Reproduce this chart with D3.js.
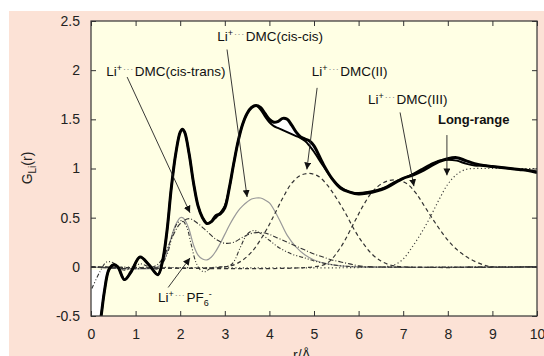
<!DOCTYPE html>
<html><head><meta charset="utf-8">
<script src="https://cdn.jsdelivr.net/npm/d3@7"></script>
<style>html,body{margin:0;padding:0;background:#fff;}svg{display:block;}</style>
</head><body>
<svg id="chart" width="544" height="356"></svg>
<script>
// ---- data ----
const xTicks = [0,1,2,3,4,5,6,7,8,9,10];
const yTicks = [-0.5,0,0.5,1,1.5,2,2.5];
const yTickLabels = ["-0.5","0","0.5","1","1.5","2","2.5"];

const totalR = [0.2,0.25,0.3,0.4,0.5,0.6,0.75,0.9,1.1,1.3,1.5,1.6,1.7,1.8,1.9,2.0,2.05,2.1,2.2,2.3,2.4,2.5,2.6,2.7,2.8,2.9,3.0,3.1,3.2,3.3,3.4,3.5,3.6,3.7,3.8,3.9,4.0,4.1,4.2,4.3,4.4,4.5,4.6,4.7,4.8,4.9,5.0,5.2,5.4,5.6,5.8,6.0,6.2,6.4,6.6,6.8,7.0,7.2,7.4,7.6,7.8,8.0,8.2,8.4,8.6,8.8,9.0,9.2,9.4,9.6,9.8,10.0];
const totalA = [-0.6,-0.42,-0.25,-0.03,0.02,0.0,-0.13,-0.05,0.1,0.02,-0.08,0.05,0.35,0.8,1.15,1.37,1.40,1.37,1.15,0.85,0.62,0.5,0.44,0.46,0.52,0.54,0.6,0.8,1.05,1.28,1.45,1.56,1.62,1.64,1.62,1.56,1.5,1.47,1.48,1.51,1.5,1.44,1.37,1.32,1.3,1.28,1.23,1.05,0.9,0.8,0.76,0.74,0.75,0.77,0.8,0.85,0.9,0.93,0.97,1.02,1.07,1.1,1.11,1.08,1.05,1.03,1.02,1.01,1.0,0.99,0.98,0.96];
const totalB = [-0.6,-0.42,-0.25,-0.03,0.02,0.0,-0.13,-0.05,0.1,0.02,-0.08,0.05,0.35,0.8,1.15,1.37,1.40,1.37,1.15,0.85,0.62,0.5,0.44,0.46,0.5,0.55,0.62,0.8,1.05,1.28,1.45,1.56,1.62,1.64,1.6,1.53,1.47,1.43,1.41,1.39,1.37,1.35,1.33,1.31,1.28,1.23,1.17,1.03,0.9,0.81,0.76,0.75,0.76,0.78,0.81,0.86,0.9,0.94,0.99,1.04,1.08,1.09,1.08,1.05,1.03,1.03,1.02,1.01,1.0,0.99,0.98,0.97];

const cisCisR = [0,1.5,1.65,1.8,1.9,2.0,2.05,2.1,2.2,2.3,2.4,2.5,2.6,2.7,2.8,2.9,3.0,3.1,3.2,3.3,3.4,3.5,3.6,3.7,3.8,3.9,4.0,4.2,4.4,4.6,4.8,5.0,5.3,5.6,6.0,10];
const cisCisG = [0,0,0.08,0.3,0.43,0.5,0.5,0.48,0.38,0.22,0.12,0.08,0.07,0.1,0.16,0.24,0.33,0.42,0.5,0.57,0.62,0.66,0.69,0.7,0.7,0.68,0.65,0.5,0.32,0.2,0.12,0.07,0.03,0.01,0,0];

const cisTransR = [0,1.4,1.6,1.8,2.0,2.2,2.4,2.6,2.8,3.0,3.2,3.4,3.6,3.8,4.0,4.2,4.4,4.6,4.8,5.0,5.2,5.4,5.6,5.8,6.0,6.3,10];
const cisTransG = [0,0,0.08,0.28,0.44,0.49,0.44,0.36,0.28,0.24,0.25,0.3,0.34,0.35,0.33,0.29,0.25,0.21,0.17,0.13,0.1,0.07,0.05,0.03,0.01,0,0];

const pf6R = [0.02,0.2,0.35,0.5,0.7,0.9,1.1,1.3,1.5,1.7,1.85,1.95,2.05,2.15,2.25,2.35,2.45,2.55,2.7,2.9,3.1,3.2,3.35,3.5,3.65,3.8,4.0,4.2,4.5,4.8,5.0,5.3,5.6,6.0,10];
const pf6G = [-0.22,-0.05,0.05,0.04,-0.03,-0.02,0.03,0.0,-0.02,0.12,0.36,0.45,0.47,0.4,0.22,0.05,-0.03,-0.05,-0.01,0,0.01,0.05,0.2,0.33,0.37,0.34,0.27,0.2,0.13,0.09,0.06,0.03,0.01,0,0];

const dmc2R = [0,3.0,3.3,3.6,3.9,4.1,4.3,4.5,4.7,4.9,5.1,5.3,5.5,5.7,5.9,6.1,6.3,6.5,6.7,7.0,10];
const dmc2G = [0,0,0.04,0.15,0.35,0.52,0.7,0.85,0.93,0.95,0.92,0.83,0.7,0.55,0.38,0.24,0.13,0.06,0.02,0,0];

const dmc3R = [0,5.0,5.3,5.6,5.9,6.1,6.3,6.5,6.7,6.9,7.1,7.3,7.5,7.7,7.9,8.1,8.3,8.5,8.8,9.0,10];
const dmc3G = [0,0,0.04,0.2,0.45,0.62,0.76,0.84,0.88,0.88,0.84,0.74,0.6,0.46,0.33,0.22,0.14,0.08,0.02,0,0];

const longR = [0,6.5,6.8,7.0,7.2,7.4,7.6,7.8,8.0,8.2,8.4,8.6,8.8,9.0,9.5,10];
const longG = [0,0,0.02,0.08,0.2,0.34,0.5,0.68,0.84,0.94,0.99,1.0,1.0,1.0,1.0,1.0];

// annotations: label anchor (r,G), arrow start (r,G), arrow tip (r,G)
const annNames = ["cis-trans","cis-cis","II","III","long","pf6"];
const annLabelR = [0.34,2.83,4.95,6.21,7.78,1.50];
const annLabelG = [1.94,2.30,1.94,1.66,1.45,-0.36];
const annFromR = [0.81,3.05,5.07,6.93,7.98,1.73];
const annFromG = [1.93,2.21,1.82,1.57,1.34,-0.21];
const annToR = [2.22,3.50,4.84,7.24,7.98,2.22];
const annToG = [0.55,0.71,0.99,0.82,0.93,0.09];

// ---- layout ----
const svg = d3.select("#chart");
const W = 544, H = 356;
const m = {left:91, right:537, top:21, bottom:316};
const x = d3.scaleLinear().domain([0,10]).range([m.left, m.right]);
const y = d3.scaleLinear().domain([-0.5,2.5]).range([m.bottom, m.top]);
const font = "'Liberation Sans', Arial, sans-serif";

svg.append("rect").attr("x",0).attr("y",0).attr("width",W).attr("height",H).attr("fill","#ffffff");
svg.append("rect").attr("x",9).attr("y",11).attr("width",W-9).attr("height",H-11).attr("fill","#fce2d6");
svg.append("rect").attr("x",m.left).attr("y",m.top).attr("width",m.right-m.left).attr("height",m.bottom-m.top).attr("fill","#ffffe4");

svg.append("defs").append("clipPath").attr("id","clip")
  .append("rect").attr("x",m.left).attr("y",m.top).attr("width",m.right-m.left).attr("height",m.bottom-m.top);
const defs = svg.select("defs");
defs.append("marker").attr("id","arr").attr("viewBox","0 0 10 10").attr("refX",10).attr("refY",5)
  .attr("markerWidth",7).attr("markerHeight",7).attr("markerUnits","userSpaceOnUse").attr("orient","auto")
  .append("path").attr("d","M0,0L10,5L0,10z").attr("fill","#111");

const g = svg.append("g").attr("clip-path","url(#clip)");

const zip = (rs, gs) => rs.map((r,i)=>[r,gs[i]]);
const line = d3.line().x(d=>x(d[0])).y(d=>y(d[1])).curve(d3.curveCatmullRom.alpha(0.5));

// white region left of main curve below zero
const whitePts = zip(totalR,totalA).filter(d=>d[0]<=0.4);
g.append("path").datum(whitePts)
  .attr("d", d3.area().y(d=>y(d[1])).x0(x(0)).x1(d=>x(d[0])).curve(d3.curveCatmullRom.alpha(0.5)))
  .attr("fill","#ffffff");

// components
const comps = [
  {pts:zip(cisCisR,cisCisG), stroke:"#999", w:1.2, dash:null},
  {pts:zip(cisTransR,cisTransG), stroke:"#333", w:1.1, dash:"5,2,1,2"},
  {pts:zip(pf6R,pf6G), stroke:"#333", w:1.1, dash:"4,2,1,2,1,2"},
  {pts:zip(dmc2R,dmc2G), stroke:"#333", w:1.2, dash:"4,3"},
  {pts:zip(dmc3R,dmc3G), stroke:"#333", w:1.2, dash:"4,3"},
  {pts:zip(longR,longG), stroke:"#444", w:1.2, dash:"1.2,2.5"}
];
comps.forEach(c=>{
  g.append("path").datum(c.pts).attr("d",line).attr("fill","none")
    .attr("stroke",c.stroke).attr("stroke-width",c.w).attr("stroke-dasharray",c.dash);
});

// total curves
const both = totalR.map((r,i)=>({r, a:totalA[i], b:totalB[i]}));
g.append("path").datum(both)
  .attr("d", d3.area().x(d=>x(d.r)).y0(d=>y(d.a)).y1(d=>y(d.b)).curve(d3.curveCatmullRom.alpha(0.5)))
  .attr("fill","#ffffff");
g.append("path").datum(zip(totalR,totalB)).attr("d",line).attr("fill","none").attr("stroke","#000").attr("stroke-width",2);
g.append("path").datum(zip(totalR,totalA)).attr("d",line).attr("fill","none").attr("stroke","#000").attr("stroke-width",3);

// frame
svg.append("rect").attr("x",m.left).attr("y",m.top).attr("width",m.right-m.left).attr("height",m.bottom-m.top)
  .attr("fill","none").attr("stroke","#333").attr("stroke-width",1.2);

// axes (inward ticks, mirrored)
const tk = 5;
const xb = svg.append("g").attr("transform",`translate(0,${m.bottom})`)
  .call(d3.axisBottom(x).tickValues(xTicks).tickSize(-tk).tickPadding(tk+8).tickFormat(d3.format("d")));
const xt = svg.append("g").attr("transform",`translate(0,${m.top})`)
  .call(d3.axisTop(x).tickValues(xTicks).tickSize(-tk).tickFormat(""));
const yl = svg.append("g").attr("transform",`translate(${m.left},0)`)
  .call(d3.axisLeft(y).tickValues(yTicks).tickSize(-tk).tickPadding(tk+6).tickFormat((d,i)=>yTickLabels[i]));
const yr = svg.append("g").attr("transform",`translate(${m.right},0)`)
  .call(d3.axisRight(y).tickValues(yTicks).tickSize(-tk).tickFormat(""));
[xb,xt,yl,yr].forEach(a=>{
  a.select(".domain").remove();
  a.selectAll(".tick line").attr("stroke","#333").attr("stroke-width",1);
  a.selectAll(".tick text").attr("font-family",font).attr("font-size",14).attr("fill","#222");
});

// axis titles
svg.append("text").attr("x",302).attr("y",360).attr("text-anchor","middle")
  .attr("font-family",font).attr("font-size",14).attr("fill","#222").text("r/Å");
const yt = svg.append("text").attr("transform","translate(32,168) rotate(-90)").attr("text-anchor","middle")
  .attr("font-family",font).attr("font-size",14).attr("fill","#222");
yt.append("tspan").text("G");
yt.append("tspan").attr("font-size",10).attr("dy",4).text("Li");
yt.append("tspan").attr("dy",-4).text("(r)");

// annotations
const ann = svg.append("g");
annNames.forEach((n,i)=>{
  ann.append("line").attr("x1",x(annFromR[i])).attr("y1",y(annFromG[i]))
    .attr("x2",x(annToR[i])).attr("y2",y(annToG[i]))
    .attr("stroke","#222").attr("stroke-width",0.9).attr("marker-end","url(#arr)");
  const t = ann.append("text").attr("x",x(annLabelR[i])).attr("y",y(annLabelG[i]))
    .attr("font-family",font).attr("font-size",13.5).attr("fill","#111");
  if (n==="long") { t.attr("font-weight","bold").attr("font-size",13).text("Long-range"); return; }
  t.append("tspan").text("Li");
  t.append("tspan").attr("font-size",9).attr("dy",-5).text("+");
  t.append("tspan").attr("font-size",9).attr("dy",1).attr("dx",1).attr("fill","#888").attr("letter-spacing",0.6).text("···");
  if (n==="pf6") {
    t.append("tspan").attr("dy",4).attr("dx",1).text("PF");
    t.append("tspan").attr("font-size",9).attr("dy",4).text("6");
    t.append("tspan").attr("font-size",9).attr("dy",-9).text("-");
  } else {
    const lbl = {"cis-trans":"DMC(cis-trans)","cis-cis":"DMC(cis-cis)","II":"DMC(II)","III":"DMC(III)"}[n];
    t.append("tspan").attr("dy",4).attr("dx",1).text(lbl);
  }
});
</script>
</body></html>
